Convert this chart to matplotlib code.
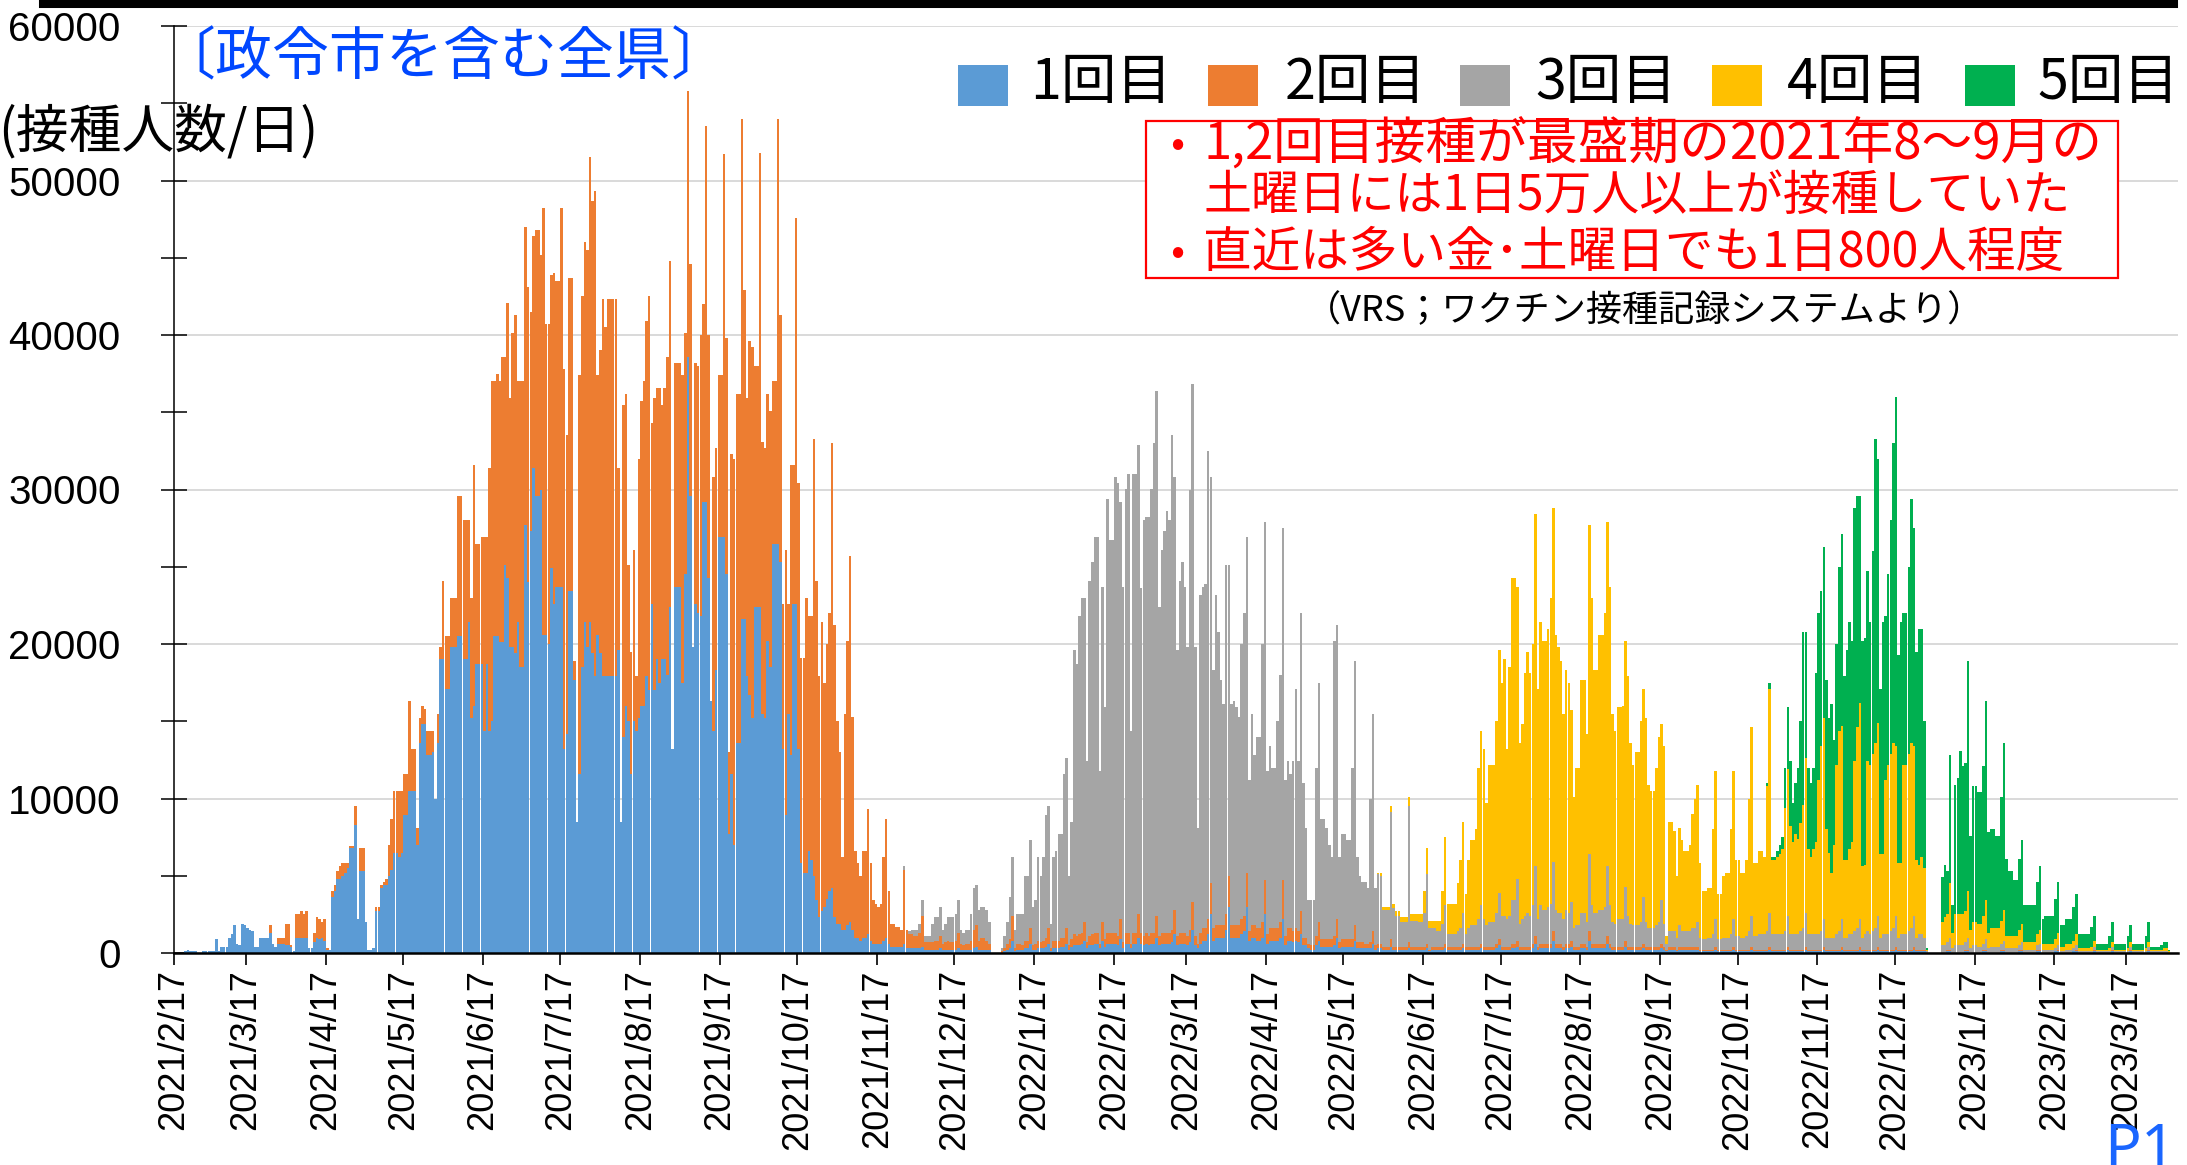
import datetime as dt
import numpy as np
import matplotlib
matplotlib.use("Agg")
import matplotlib.pyplot as plt
from matplotlib.patches import Rectangle
from matplotlib.lines import Line2D
from matplotlib.ticker import MultipleLocator

# ---------------- data ----------------
START = dt.date(2021, 2, 17)          # first day (Wednesday); weekly rows = Wed..Tue
N_WEEKS = 111
UNIT = 100                              # values below are in units of 100 people/day

series_names = ["1回目", "2回目", "3回目", "4回目", "5回目"]
series_colors = ["#5B9BD5", "#ED7D31", "#A5A5A5", "#FFC000", "#00B050"]

tick_labels = ["2021/2/17", "2021/3/17", "2021/4/17", "2021/5/17", "2021/6/17",
               "2021/7/17", "2021/8/17", "2021/9/17", "2021/10/17", "2021/11/17",
               "2021/12/17", "2022/1/17", "2022/2/17", "2022/3/17", "2022/4/17",
               "2022/5/17", "2022/6/17", "2022/7/17", "2022/8/17", "2022/9/17",
               "2022/10/17", "2022/11/17", "2022/12/17", "2023/1/17", "2023/2/17",
               "2023/3/17"]

dose1_first_week = 0
dose1_weekly = [
    [0,0,0,0,1,2,1], [1,1,0,0,1,1,1], [1,1,9,1,4,4,4], [10,12,18,6,5,19,18],
    [16,15,14,4,4,10,10], [10,10,13,6,4,6,6], [6,5,5,4,1,10,10], [10,10,10,3,3,7,10],
    [9,10,8,2,2,36,40], [48,48,50,52,55,68,68], [83,22,53,53,20,2,2], [3,27,27,42,44,44,50],
    [54,65,65,62,65,89,89], [105,105,105,70,136,148,148], [128,128,130,100,136,190,190],
    [171,171,198,198,198,205,205], [190,190,214,152,160,187,187], [187,144,187,144,150,205,205],
    [201,201,251,243,198,198,194], [214,185,185,277,240,273,314], [296,296,300,206,206,200,249],
    [226,237,237,237,132,142,234], [234,177,85,116,185,214,198], [214,194,179,206,194,179,179],
    [179,179,179,179,196,85,140], [160,150,116,150,144,152,160], [160,179,170,226,170,190,175],
    [190,190,180,224,132,237,237], [237,175,245,386,296,198,226], [220,218,292,292,243,163,144],
    [183,269,269,269,245,77,116], [70,136,136,216,216,179,167], [152,224,224,224,155,152,202],
    [185,265,265,265,253,132,89], [155,128,226,226,132,58,52], [52,66,60,50,34,23,27],
    [30,35,40,42,23,19,19], [15,15,18,20,15,10,10], [8,10,10,12,8,6,6], [6,6,8,10,6,4,4],
    [4,4,4,6,3,3,3], [3,3,3,4,2,2,2], [2,2,2,3,2,2,2], [2,2,2,3,2,2,2], [2,2,3,4,2,2,2],
    [2,2,0,0,0,0,0], [1,2,3,8,1,2,2], [2,3,3,6,2,2,3], [3,3,4,6,1,3,3], [3,4,4,6,2,4,5],
    [5,5,6,8,3,5,5], [6,6,3,8,4,6,6], [6,6,5,9,3,6,6], [3,6,6,10,6,5,6], [5,6,6,10,5,6,6],
    [6,6,7,12,5,6,6], [6,5,7,15,5,3,6], [8,8,12,25,8,10,10], [10,10,15,30,10,10,10],
    [10,12,14,30,8,10,10], [8,8,10,25,6,8,8], [8,8,10,22,5,8,8], [7,8,7,12,5,5,3],
    [2,2,5,8,4,4,4], [4,4,5,10,3,4,4], [4,4,4,8,3,3,3], [3,3,3,6,2,3,3], [2,2,2,4,2,2,2],
    [2,2,2,3,2,2,2], [2,2,2,3,1,2,2], [2,2,2,3,2,2,2], [2,2,2,3,2,2,2], [2,2,2,3,2,2,2],
    [2,2,3,5,2,2,2], [2,3,3,4,2,2,2], [2,2,3,6,2,3,3], [3,3,3,8,3,3,3], [2,3,3,4,2,2,2],
    [3,3,2,8,3,3,3], [3,3,3,6,3,2,2], [2,2,2,4,2,2,2], [2,2,2,3,2,2,2], [2,2,2,3,2,1,2],
    [2,2,1,2,2,2,2], [2,2,2,2,1,1,1], [1,1,1,2,1,1,1], [1,1,1,2,1,1,1], [1,1,1,2,1,1,1],
    [1,1,1,2,1,1,1], [1,1,1,2,1,1,1], [1,1,1,2,1,1,1], [1,1,1,2,1,1,1], [1,1,1,2,1,1,1],
    [1,1,1,2,1,1,1], [1,1,1,2,1,1,1], [1,1,1,2,1,1,1], [1,1,1,2,1,1,1], [1,0,0,0,0,0,0],
    [0,0,1,1,0,0,0], [0,0,1,1,0,0,0], [0,0,1,1,0,0,0], [0,0,1,1,0,0,0], [0,0,1,1,0,0,0],
    [0,0,1,1,0,0,0], [0,0,1,1,0,0,0], [0,0,1,1,0,0,0], [0,0,0,1,0,0,0], [0,0,0,1,0,0,0],
    [0,0,0,1,0,0,0], [0,0,0,1,0,0,0], [0,0,0,0,0,0,0],
]

dose2_first_week = 5
dose2_weekly = [
    [0,0,5,0,0,4,4], [4,14,14,1,0,15,15], [17,15,17,0,0,6,13], [13,10,14,1,0,4,4],
    [5,8,8,6,3,1,1], [12,0,15,15,0,0,0], [0,3,3,2,2,4,20], [33,40,40,43,40,27,27],
    [58,27,27,11,16,12,10], [16,16,14,0,19,8,51], [34,34,32,32,32,91,91],
    [90,90,66,78,156,78,78], [82,125,82,170,220,165,170], [169,185,135,178,161,203,219],
    [156,185,185,193,191,142,150], [172,172,152,276,201,207,190], [214,198,198,245,246,193,203],
    [203,12,0,258,240,246,257], [301,293,314,168,196,244,226], [244,244,244,244,118,0,215],
    [202,101,79,111,35,168,197], [210,230,255,117,189,176,191], [165,176,206,224,0,145,145],
    [145,199,156,172,150,0,156], [160,182,128,243,157,0,164], [144,105,105,248,153,53,207],
    [250,226,226,324,213,180,229], [240,156,156,294,176,175,160], [166,105,105,275,160,94,172],
    [71,188,90,250,172,133,139], [178,152,158,283,207,156,187], [145,165,180,288,189,131,111],
    [47,140,184,237,138,56,48], [42,56,56,81,50,28,26], [24,26,54,77,34,15,15],
    [13,13,11,48,12,9,9], [8,8,10,20,5,5,5], [5,6,6,8,4,5,6], [5,5,6,10,4,3,4],
    [4,6,12,14,6,8,8], [6,4,0,0,0,0,1], [2,4,6,16,2,4,4], [3,5,5,10,3,4,5], [4,5,6,10,2,5,5],
    [5,6,6,10,3,5,7], [6,7,7,12,4,6,7], [7,7,3,12,5,7,7], [7,7,6,13,4,7,7], [3,7,7,15,7,6,7],
    [6,7,7,14,6,7,7], [7,7,8,16,6,7,7], [7,6,8,18,6,3,7], [8,8,10,20,8,8,8], [8,8,10,20,8,8,8],
    [8,10,10,22,6,8,8], [8,8,10,22,6,8,8], [8,8,10,25,6,8,8], [7,8,7,15,5,5,3], [3,3,6,12,5,5,5],
    [5,5,6,12,4,5,5], [5,5,5,10,4,4,4], [3,3,4,8,3,3,3], [2,2,2,5,2,2,2], [2,2,2,4,2,2,2],
    [2,2,2,3,1,2,2], [2,2,2,3,2,2,2], [2,2,2,3,2,2,2], [2,2,2,3,2,2,2], [2,2,3,4,2,2,2],
    [2,3,3,4,2,2,2], [2,2,3,5,2,3,3], [3,3,3,6,3,3,3], [2,3,3,4,2,2,2], [3,3,2,6,3,3,3],
    [3,3,3,5,3,2,2], [2,2,2,4,2,2,2], [2,2,2,3,2,2,2], [2,2,2,3,2,1,2], [2,2,1,2,2,2,2],
    [2,2,2,2,1,1,1], [1,1,1,2,1,1,1], [1,1,1,2,1,1,1], [1,1,1,2,1,1,1], [1,1,1,2,1,1,1],
    [1,1,1,2,1,1,1], [1,1,1,2,1,1,1], [1,1,1,2,1,1,1], [1,1,1,2,1,1,1], [1,1,1,2,1,1,1],
    [1,1,1,2,1,1,1], [1,1,1,2,1,1,1], [1,1,1,2,1,1,1], [1,0,0,0,0,0,0],
    [0,0,1,1,0,0,0], [0,0,1,1,0,0,0], [0,0,1,1,0,0,0], [0,0,1,1,0,0,0], [0,0,1,1,0,0,0],
    [0,0,1,1,0,0,0], [0,0,0,1,0,0,0], [0,0,0,1,0,0,0], [0,0,0,1,0,0,0], [0,0,0,1,0,0,0],
    [0,0,0,1,0,0,0], [0,0,0,1,0,0,0], [0,0,0,0,0,0,0],
]

dose3_first_week = 40
dose3_weekly = [
    [0,0,0,2,0,2,3], [4,4,6,10,4,4,4], [12,15,15,19,9,12,15], [16,16,17,21,9,8,9],
    [9,17,27,26,20,20,20], [20,14,0,0,0,0,2], [8,14,27,38,12,19,19], [20,42,42,57,25,28,54],
    [43,54,79,79,16,54,58], [69,67,106,110,45,76,184], [176,206,217,210,117,230,241],
    [256,256,112,217,150,281,254], [254,295,293,270,230,287,297], [138,297,297,304,223,269,269],
    [271,287,317,340,213,248,260], [273,267,320,280,185,228,240], [224,187,285,335,187,75,219],
    [221,223,303,263,167,214,190], [159,143,226,201,143,145,141], [135,178,196,217,98,137,110],
    [124,124,180,232,106,118,104], [104,134,160,228,101,108,100], [110,155,110,193,100,71,28],
    [29,29,109,155,78,78,72], [61,53,191,190,55,68,68], [64,64,111,171,55,43,39],
    [40,36,93,141,37,45,44], [24,24,24,82,25,20,20], [16,16,16,88,17,17,17],
    [16,16,22,45,14,12,12], [10,10,15,25,8,8,8], [8,10,12,20,8,12,14], [14,14,18,25,18,14,16],
    [16,16,20,30,20,20,18], [20,28,28,40,15,18,20], [22,20,25,45,18,25,22], [22,24,26,45,22,20,20],
    [18,22,20,25,12,14,14], [20,20,16,50,25,20,20], [22,22,24,45,25,16,15], [18,18,18,35,20,15,14],
    [14,14,16,30,16,12,12], [12,14,16,28,15,4,10], [10,10,8,14,10,10,10], [10,12,12,16,8,7,7],
    [8,8,10,18,7,7,8], [8,8,10,18,9,9,8], [8,9,12,20,9,9,10], [10,10,12,22,10,10,10],
    [10,10,12,20,10,10,10], [10,12,14,22,10,10,10], [10,10,12,18,8,8,8], [8,10,12,18,8,8,10],
    [10,12,14,18,8,10,12], [10,12,14,20,8,10,10], [10,12,14,20,8,10,10], [10,12,14,20,8,10,10],
    [8,1,0,0,0,0,0], [5,5,5,8,3,5,5], [5,5,5,8,3,5,5], [4,4,4,7,3,4,4], [4,4,4,6,3,3,3],
    [3,3,3,5,2,2,2], [2,2,3,4,2,2,2], [2,2,2,3,1,1,2], [2,2,2,3,1,1,1], [1,1,1,2,1,1,1],
    [1,1,1,2,1,1,1], [1,1,1,2,1,1,1], [1,1,1,2,1,1,1], [1,1,1,1,0,0,0],
]

dose4_first_week = 66
dose4_weekly = [
    [0,0,0,0,0,1,2], [2,2,2,4,3,3,3], [3,3,3,6,4,4,4], [5,5,14,17,5,5,5], [7,7,21,44,20,20,20],
    [20,31,44,59,26,44,55], [55,62,98,113,110,79,102], [102,102,124,157,151,166,110],
    [161,209,209,189,117,126,157], [169,157,169,228,149,183,174], [174,180,198,229,178,172,163],
    [133,155,149,124,85,102,102], [151,151,122,213,199,157,157], [178,178,190,223,206,135,125],
    [137,137,138,159,155,117,104], [112,112,130,135,132,93,89], [89,102,120,114,115,5,71],
    [71,65,40,63,59,52,52], [56,74,84,89,48,31,31], [32,32,68,96,29,29,40], [42,42,68,96,49,49,42],
    [42,49,86,122,47,47,54], [54,50,94,145,48,48,50], [52,55,80,95,70,60,65], [62,70,80,100,55,50,55],
    [60,100,120,130,70,55,42], [60,110,130,125,50,50,55], [60,110,130,140,46,45,110],
    [110,115,120,125,54,52,100], [110,115,120,110,48,46,110], [110,115,120,110,50,45,50],
    [45,1,0,0,0,0,0], [15,18,18,35,10,20,20], [20,20,20,30,12,15,15], [15,15,18,25,10,12,12],
    [12,12,15,20,8,8,8], [8,8,10,12,5,5,5], [5,5,7,9,4,4,4], [4,4,6,8,3,3,4], [4,4,5,7,2,2,2],
    [2,2,3,4,1,1,1], [1,1,2,3,1,1,1], [1,1,2,3,1,1,1], [1,1,2,3,1,1,1], [1,1,2,2,1,0,0],
]

dose5_first_week = 88
dose5_weekly = [
    [0,0,2,4,2,2,4], [6,8,26,40,42,25,33], [46,66,112,82,53,48,53], [109,108,100,111,97,87,109],
    [68,78,106,124,119,136,147], [130,164,150,134,146,147,123], [92,131,197,171,107,150,106],
    [123,151,194,226,135,156,98], [98,121,158,141,135,153,148], [95,1,0,0,0,0,0],
    [29,34,28,83,18,84,88], [106,96,96,149,61,88,88], [85,85,97,129,65,64,64],
    [60,60,80,108,50,42,42], [36,36,46,54,24,24,24], [24,24,34,41,16,18,18],
    [18,18,26,33,14,14,16], [16,16,22,26,9,9,9], [9,9,13,16,4,4,4], [4,4,8,13,4,4,4],
    [4,4,8,11,4,4,4], [4,4,8,13,2,2,2], [2,3,4,4,1,0,0],
]

# ---------------- helpers ----------------
def to_daily(rows, first_week):
    arr = np.zeros(N_WEEKS * 7)
    vals = np.asarray(rows, dtype=float).ravel() * UNIT
    arr[first_week * 7: first_week * 7 + len(vals)] = vals
    return arr

series = [to_daily(dose1_weekly, dose1_first_week),
          to_daily(dose2_weekly, dose2_first_week),
          to_daily(dose3_weekly, dose3_first_week),
          to_daily(dose4_weekly, dose4_first_week),
          to_daily(dose5_weekly, dose5_first_week)]

W, H, DPI = 2187, 1165, 100
CJK = ["Noto Sans CJK JP", "DejaVu Sans"]
NUM = ["Liberation Sans", "DejaVu Sans"]

def fx(x):
    return x / W

def fy(y):
    return 1 - y / H

fig = plt.figure(figsize=(W / DPI, H / DPI), dpi=DPI)
ax = fig.add_axes([fx(174), fy(953), fx(2178) - fx(174), fy(26) - fy(953)])

days = np.arange(N_WEEKS * 7)
bottom = np.zeros_like(days, dtype=float)
for vals, col, name in zip(series, series_colors, series_names):
    ax.bar(days + 0.5, vals, width=0.97, bottom=bottom, color=col,
           linewidth=0, label=name, zorder=2)
    bottom += vals

ax.set_xlim(0, 778)
ax.set_ylim(0, 60000)

tick_pos = []
for lab in tick_labels:
    y_, m_, d_ = (int(v) for v in lab.split("/"))
    tick_pos.append((dt.date(y_, m_, d_) - START).days)
ax.set_xticks(tick_pos)
ax.set_xticklabels(tick_labels, rotation=90, ha="center", va="top",
                   family=NUM, fontsize=26)
ax.tick_params(axis="x", direction="out", length=8.6, width=1.2, pad=3, color="black")

ax.yaxis.set_minor_locator(MultipleLocator(5000))
ax.set_yticks(np.arange(0, 60001, 10000))
ax.set_yticklabels([str(v) for v in range(0, 60001, 10000)], family=NUM, fontsize=29)
ax.tick_params(axis="y", which="both", direction="inout", length=19, width=1.1,
               pad=29, color="black")

ax.grid(axis="y", which="major", color="#D9D9D9", linewidth=1.4, zorder=0)
ax.set_axisbelow(True)
for s in ("top", "right"):
    ax.spines[s].set_visible(False)
ax.spines["left"].set_linewidth(1.1)
ax.spines["left"].set_color("black")
ax.spines["bottom"].set_linewidth(1.8)
ax.spines["bottom"].set_color("black")
ax.spines["bottom"].set_zorder(5)

# title rule (cropped slide header)
fig.add_artist(Line2D([fx(43), fx(2174)], [fy(4), fy(4)], color="black",
                      linewidth=5.8, transform=fig.transFigure))

# region label and unit
fig.text(fx(158), fy(58), "〔政令市を含む全県〕", color="#0047FF", family=CJK,
         fontsize=41, ha="left", va="center")
fig.text(fx(-2), fy(132), "(接種人数/日)", color="black", family=CJK,
         fontsize=38, ha="left", va="center")

# legend
sq_x = [958, 1208, 1460, 1712, 1965]
tx_x = [1030, 1285, 1535, 1787, 2037]
for sx, tx, col, name in zip(sq_x, tx_x, series_colors, series_names):
    fig.add_artist(Rectangle((fx(sx), fy(106)), fx(50), (106 - 65) / H,
                             transform=fig.transFigure, facecolor=col,
                             edgecolor="none"))
    fig.text(fx(tx), fy(83), name, family=CJK, fontsize=40, color="black",
             ha="left", va="center")

# annotation box
fig.add_artist(Rectangle((fx(1146), fy(278)), fx(2118) - fx(1146), (278 - 121) / H,
                         transform=fig.transFigure, facecolor="white",
                         edgecolor="#FF0000", linewidth=1.6, zorder=3))
red = "#FF0000"
fig.text(fx(1177), fy(146), "•", family=CJK, fontsize=30, color=red,
         ha="center", va="center", zorder=4)
fig.text(fx(1203), fy(145), "1,2回目接種が最盛期の2021年8～9月の", family=CJK,
         fontsize=36.5, color=red, ha="left", va="center", zorder=4)
fig.text(fx(1203), fy(196), "土曜日には1日5万人以上が接種していた", family=CJK,
         fontsize=34.5, color=red, ha="left", va="center", zorder=4)
fig.text(fx(1177), fy(254), "•", family=CJK, fontsize=30, color=red,
         ha="center", va="center", zorder=4)
fig.text(fx(1203), fy(253), "直近は多い金･土曜日でも1日800人程度", family=CJK,
         fontsize=35, color=red, ha="left", va="center", zorder=4)

fig.text(fx(1305), fy(311), "（VRS；ワクチン接種記録システムより）", family=CJK,
         fontsize=26, color="black", ha="left", va="center")

# page marker (cropped at bottom)
fig.text(fx(2104), fy(1121), "P1", family=["Noto Sans", "DejaVu Sans"], fontsize=44,
         color="#1A66FF", ha="left", va="top")

fig.savefig("out.png", dpi=DPI)
